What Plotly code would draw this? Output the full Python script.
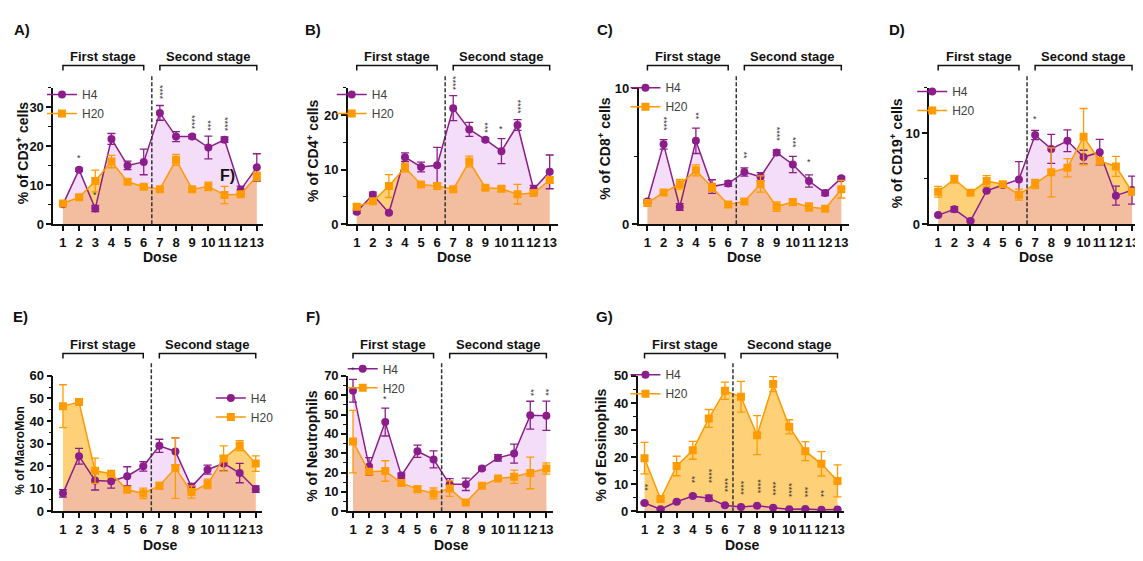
import plotly.graph_objects as go

W, H = 1143, 561          # reference picture size
OFF = 8                   # default page body margin in the browser
FW, FH = W - OFF, H - OFF # figure size so the figure fills the window
doses = list(range(1, 14))
first_stage = doses[:6]
second_stage = doses[6:]

# ---------------- data ----------------
cd3_h4 = [5.1, 14.0, 4.0, 21.9, 15.1, 16.0, 28.6, 22.5, 22.5, 19.7, 21.7, 8.8, 14.6]
cd3_h4_err = [0.5, 0.4, 0.8, 1.4, 1.1, 3.3, 1.9, 1.3, 0.5, 2.9, 0.7, 1.0, 3.5]
cd3_h20 = [5.3, 6.9, 11.1, 16.1, 10.9, 9.6, 9.0, 16.5, 9.0, 9.7, 7.5, 7.7, 12.3]
cd3_h20_err = [0.6, 0.3, 2.8, 1.6, 0.6, 0.4, 0.5, 1.4, 0.3, 1.1, 2.2, 0.4, 1.1]
cd3_sig = ["", "*", "*", "", "", "", "****", "", "****", "***", "****", "", ""]

cd4_h4 = [2.3, 5.4, 2.1, 12.3, 10.5, 10.8, 21.3, 17.4, 15.5, 13.4, 18.2, 6.4, 9.6]
cd4_h4_err = [0.3, 0.5, 0.2, 0.8, 0.9, 3.3, 2.3, 1.3, 0.3, 2.3, 1.0, 0.7, 3.1]
cd4_h20 = [3.2, 4.2, 7.0, 10.4, 7.3, 7.0, 6.4, 11.5, 6.7, 6.5, 5.5, 5.7, 8.1]
cd4_h20_err = [0.4, 0.4, 2.1, 0.8, 0.5, 0.6, 0.4, 1.0, 0.3, 0.5, 1.8, 0.3, 0.6]
cd4_sig = ["", "", "", "", "", "", "****", "", "***", "*", "****", "", ""]

cd8_h4 = [1.67, 5.86, 1.26, 6.12, 2.76, 2.98, 3.83, 3.48, 5.26, 4.38, 3.17, 2.29, 3.38]
cd8_h4_err = [0.15, 0.35, 0.25, 0.93, 0.5, 0.2, 0.3, 0.3, 0.2, 0.6, 0.45, 0.2, 0.1]
cd8_h20 = [1.55, 2.33, 2.93, 3.95, 2.7, 1.45, 1.67, 2.95, 1.29, 1.62, 1.26, 1.14, 2.57]
cd8_h20_err = [0.2, 0.1, 0.35, 0.4, 0.3, 0.2, 0.15, 0.6, 0.35, 0.25, 0.3, 0.15, 0.65]
cd8_sig = ["", "****", "", "**", "", "", "**", "", "****", "***", "*", "", ""]

cd19_h4 = [1.0, 1.64, 0.36, 3.68, 4.32, 4.93, 9.82, 8.29, 9.18, 7.39, 7.93, 3.14, 3.75]
cd19_h4_err = [0.1, 0.3, 0.1, 0.1, 0.2, 1.95, 0.5, 1.6, 1.2, 0.75, 1.4, 1.05, 1.55]
cd19_h20 = [3.57, 4.96, 3.46, 4.75, 4.39, 3.25, 4.43, 5.71, 6.21, 9.64, 6.96, 6.36, 3.57]
cd19_h20_err = [0.6, 0.4, 0.1, 0.6, 0.3, 0.6, 0.5, 2.7, 1.0, 3.1, 0.4, 1.1, 0.3]
cd19_sig = ["", "", "", "", "", "", "*", "", "", "", "", "", ""]

mm_h4 = [7.9, 24.4, 13.6, 13.3, 15.5, 19.9, 29.0, 26.5, 10.8, 18.4, 21.2, 16.9, 9.8]
mm_h4_err = [1.7, 3.5, 4.2, 3.1, 4.2, 2.1, 2.9, 6.0, 1.5, 2.0, 3.2, 4.3, 1.4]
mm_h20 = [46.6, 48.4, 17.9, 16.6, 9.5, 7.9, 11.3, 19.1, 8.5, 12.1, 23.4, 29.1, 21.1]
mm_h20_err = [9.5, 1.0, 5.6, 0.7, 1.0, 2.3, 1.5, 13.4, 2.7, 2.1, 5.6, 2.2, 3.4]
mm_sig = [""] * 13

neu_h4 = [62.3, 23.1, 46.1, 18.4, 31.0, 26.8, 13.9, 13.9, 22.1, 27.6, 29.8, 49.7, 49.4]
neu_h4_err = [5.9, 4.6, 7.2, 1.3, 3.2, 4.4, 2.9, 3.2, 0.8, 1.7, 4.9, 7.2, 7.6]
neu_h20 = [36.0, 20.4, 20.8, 14.6, 11.4, 9.2, 11.7, 4.5, 13.2, 16.9, 17.8, 19.8, 22.1]
neu_h20_err = [16.2, 1.3, 5.3, 1.5, 1.5, 2.8, 4.0, 0.5, 0.8, 0.8, 3.4, 8.2, 2.9]
neu_sig = ["*", "", "*", "", "", "", "", "", "", "", "", "**", "**"]

eos_h4 = [3.0, 0.7, 3.5, 5.6, 4.8, 2.2, 1.55, 2.0, 1.3, 0.7, 0.8, 0.5, 0.6]
eos_h4_err = [0.3, 0.2, 0.3, 0.5, 1.1, 0.3, 0.3, 0.3, 0.2, 0.2, 0.2, 0.1, 0.1]
eos_h20 = [19.6, 4.5, 16.7, 22.5, 34.3, 44.5, 42.3, 28.1, 47.0, 31.2, 22.2, 17.5, 11.2]
eos_h20_err = [5.8, 0.4, 3.6, 3.3, 3.3, 3.2, 5.7, 7.2, 2.8, 2.6, 3.5, 4.5, 5.9]
eos_sig = ["**", "", "", "**", "****", "****", "****", "****", "****", "****", "***", "**", ""]

# ---------------- styles ----------------
PURPLE = "#8B1E8B"
ORANGE = "#FF9A00"
FILL_H20 = "rgb(254,208,120)"
FILL_H4 = "rgba(223,155,234,0.34)"
FONT = "Liberation Sans, Arial, sans-serif"
INK = "#111111"


def px(x):
    return (x - OFF) / FW


def py(y):
    return 1 - (y - OFF) / FH


panels = [
    dict(letter="A)", letter_pos=(22, 23), ytitle="% of CD3<sup>+</sup> cells", ytitle_pos=(22, 150), ytsize=14,
         dose_pos=(160, 257), h4=cd3_h4, h4e=cd3_h4_err, h20=cd3_h20, h20e=cd3_h20_err, sig=cd3_sig,
         ymax=35, major=[0, 10, 20, 30], xdom=(53.3, 263.5), xr=(0.4, 13.4), ydom=(223, 83),
         leg=(76, 94), star_shift=3),
    dict(letter="B)", letter_pos=(313, 23), ytitle="% of CD4<sup>+</sup> cells", ytitle_pos=(313, 148), ytsize=14,
         dose_pos=(454, 257), h4=cd4_h4, h4e=cd4_h4_err, h20=cd4_h20, h20e=cd4_h20_err, sig=cd4_sig,
         ymax=25, major=[0, 10, 20], xdom=(348.2, 558.2), xr=(0.45, 13.5), ydom=(223, 83),
         leg=(366, 94), star_shift=3),
    dict(letter="C)", letter_pos=(606, 23), ytitle="% of CD8<sup>+</sup> cells", ytitle_pos=(605, 145), ytsize=14,
         dose_pos=(745, 257), h4=cd8_h4, h4e=cd8_h4_err, h20=cd8_h20, h20e=cd8_h20_err, sig=cd8_sig,
         ymax=10, major=[0, 10], xdom=(639.1, 849.3), xr=(0.45, 13.45), ydom=(223, 83),
         leg=(660, 87), star_shift=6),
    dict(letter="D)", letter_pos=(898, 23), ytitle="% of CD19<sup>+</sup> cells", ytitle_pos=(897, 150), ytsize=14,
         dose_pos=(1037, 257), h4=cd19_h4, h4e=cd19_h4_err, h20=cd19_h20, h20e=cd19_h20_err, sig=cd19_sig,
         ymax=15, major=[0, 10], xdom=(930.1, 1140.3), xr=(0.45, 13.45), ydom=(223, 83),
         leg=(947, 91), star_shift=4),
    dict(letter="E)", letter_pos=(21, 318), ytitle="% of MacroMon", ytitle_pos=(20, 455), ytsize=12,
         dose_pos=(160, 553), h4=mm_h4, h4e=mm_h4_err, h20=mm_h20, h20e=mm_h20_err, sig=mm_sig,
         ymax=60, major=[0, 10, 20, 30, 40, 50, 60], xdom=(53.35, 262.4), xr=(0.4, 13.4), ydom=(518, 379),
         leg=(245, 406), star_shift=4),
    dict(letter="F)", letter_pos=(313, 318), ytitle="% of Neutrophils", ytitle_pos=(312, 451), ytsize=14,
         dose_pos=(451, 553), h4=neu_h4, h4e=neu_h4_err, h20=neu_h20, h20e=neu_h20_err, sig=neu_sig,
         ymax=70, major=[0, 10, 20, 30, 40, 50, 60, 70], xdom=(348.3, 553.3), xr=(0.69, 13.4), ydom=(518, 379),
         leg=(377, 376), star_shift=2),
    dict(letter="G)", letter_pos=(605, 318), ytitle="% of Eosinophils", ytitle_pos=(602, 450), ytsize=14,
         dose_pos=(743, 553), h4=eos_h4, h4e=eos_h4_err, h20=eos_h20, h20e=eos_h20_err, sig=eos_sig,
         ymax=50, major=[0, 10, 20, 30, 40, 50], xdom=(638.3, 845.0), xr=(0.58, 13.42), ydom=(518, 379),
         leg=(660, 382), star_shift=9),
]

fig = go.Figure()
layout = dict(
    width=FW, height=FH, autosize=False,
    margin=dict(l=0, r=0, t=0, b=0),
    paper_bgcolor="white", plot_bgcolor="white",
    font=dict(family=FONT, color=INK),
    hovermode=False,
)
annotations = []
shapes = []

split = (first_stage[-1] + second_stage[0]) / 2

for i, p in enumerate(panels):
    n = i + 1
    xa = "x" if n == 1 else f"x{n}"
    ya = "y" if n == 1 else f"y{n}"
    xkey = "xaxis" if n == 1 else f"xaxis{n}"
    ykey = "yaxis" if n == 1 else f"yaxis{n}"
    legkey = "legend" if n == 1 else f"legend{n}"

    # fills
    fig.add_trace(go.Scatter(x=doses, y=p["h20"], mode="none", fill="tozeroy", fillcolor=FILL_H20,
                             showlegend=False, hoverinfo="skip", xaxis=xa, yaxis=ya))
    fig.add_trace(go.Scatter(x=doses, y=p["h4"], mode="none", fill="tozeroy", fillcolor=FILL_H4,
                             showlegend=False, hoverinfo="skip", xaxis=xa, yaxis=ya))
    # lines
    fig.add_trace(go.Scatter(x=doses, y=p["h4"], mode="lines+markers", name="H4",
                             line=dict(color=PURPLE, width=1.5),
                             marker=dict(symbol="circle", size=8, color=PURPLE),
                             error_y=dict(type="data", array=p["h4e"], color=PURPLE, thickness=1.3, width=4),
                             legend=legkey, legendrank=1, xaxis=xa, yaxis=ya))
    fig.add_trace(go.Scatter(x=doses, y=p["h20"], mode="lines+markers", name="H20",
                             line=dict(color=ORANGE, width=1.5),
                             marker=dict(symbol="square", size=8, color=ORANGE),
                             error_y=dict(type="data", array=p["h20e"], color=ORANGE, thickness=1.3, width=4),
                             legend=legkey, legendrank=2, xaxis=xa, yaxis=ya))

    layout[xkey] = dict(
        domain=[px(p["xdom"][0]), px(p["xdom"][1])], range=list(p["xr"]), anchor=ya,
        showline=True, linecolor=INK, linewidth=1.6, ticks="outside", ticklen=5, tickwidth=1.5,
        tickcolor=INK, tickvals=doses, ticktext=[str(d) for d in doses], tickangle=0,
        tickfont=dict(size=13, family=FONT, color=INK, weight="bold"),
        showgrid=False, zeroline=False, fixedrange=True,
    )
    layout[ykey] = dict(
        domain=[py(p["ydom"][0]), py(p["ydom"][1])], range=[0, p["ymax"]], anchor=xa,
        showline=True, linecolor=INK, linewidth=1.6, ticks="outside", ticklen=5, tickwidth=1.5,
        tickcolor=INK, tickvals=p["major"], ticktext=[str(v) for v in p["major"]], tickangle=0,
        tickfont=dict(size=13, family=FONT, color=INK, weight="bold"),
        minor=dict(ticks="outside", tickmode="linear", tick0=0, dtick=5, ticklen=3, tickwidth=1.3, tickcolor=INK),
        showgrid=False, zeroline=False, fixedrange=True,
    )
    # legend: item text starts ~40px right of the legend's left edge
    layout[legkey] = dict(
        x=px(p["leg"][0] - 34), y=py(p["leg"][1] + 5.5), xanchor="left", yanchor="middle",
        bgcolor="rgba(0,0,0,0)", borderwidth=0, itemwidth=30,
        font=dict(size=12, family=FONT, color="#404040"),
        tracegroupgap=0, traceorder="normal",
    )

    # panel letter
    annotations.append(dict(text=f"<b>{p['letter']}</b>", x=px(p["letter_pos"][0]), y=py(p["letter_pos"][1]),
                            xref="paper", yref="paper", showarrow=False, xanchor="center", yanchor="middle",
                            font=dict(size=15, family=FONT, color=INK)))
    # y title
    annotations.append(dict(text=f"<b>{p['ytitle']}</b>", x=px(p["ytitle_pos"][0]), y=py(p["ytitle_pos"][1]),
                            xref="paper", yref="paper", showarrow=False, textangle=-90,
                            xanchor="center", yanchor="middle", font=dict(size=p["ytsize"], family=FONT, color=INK)))
    # x title
    annotations.append(dict(text="<b>Dose</b>", x=px(p["dose_pos"][0]), y=py(p["dose_pos"][1]),
                            xref="paper", yref="paper", showarrow=False, xanchor="center", yanchor="middle",
                            font=dict(size=14, family=FONT, color=INK)))

    # stage brackets and labels
    top_band = p["ydom"][1]
    br_y = top_band - 23
    lab_y = top_band - 32
    for stage, label in ((first_stage, "First stage"), (second_stage, "Second stage")):
        a, b = stage[0], stage[-1]
        shapes.append(dict(type="path", xref=xa, yref="paper",
                           path=f"M {a},{py(br_y + 5)} L {a},{py(br_y)} L {b},{py(br_y)} L {b},{py(br_y + 5)}",
                           line=dict(color=INK, width=1.5)))
        annotations.append(dict(text=f"<b>{label}</b>", x=(a + b) / 2, y=py(lab_y), xref=xa, yref="paper",
                                showarrow=False, xanchor="center", yanchor="middle",
                                font=dict(size=13, family=FONT, color=INK)))

    # dashed divider
    shapes.append(dict(type="line", xref=xa, yref="paper", x0=split, x1=split,
                       y0=py(p["ydom"][0]), y1=py(top_band - 14),
                       line=dict(color="#333333", width=1.5, dash="4px,2px")))

    # significance stars
    for d, s, v, e in zip(doses, p["sig"], p["h4"], p["h4e"]):
        if not s:
            continue
        annotations.append(dict(text=s, x=d, y=v + e, xref=xa, yref=ya, showarrow=False,
                                xanchor="center", yanchor="bottom", yshift=p["star_shift"],
                                textangle=90 if len(s) > 1 else 0,
                                font=dict(size=9, family=FONT, color="#333333")))

# stray panel label inside panel A
annotations.append(dict(text="<b>F)</b>", x=px(228), y=py(173), xref="paper", yref="paper",
                        showarrow=False, xanchor="center", yanchor="middle",
                        font=dict(size=16, family=FONT, color=INK)))

layout["annotations"] = annotations
layout["shapes"] = shapes
fig.update_layout(**layout)

fig.write_html("out.html", config={"displayModeBar": False})
